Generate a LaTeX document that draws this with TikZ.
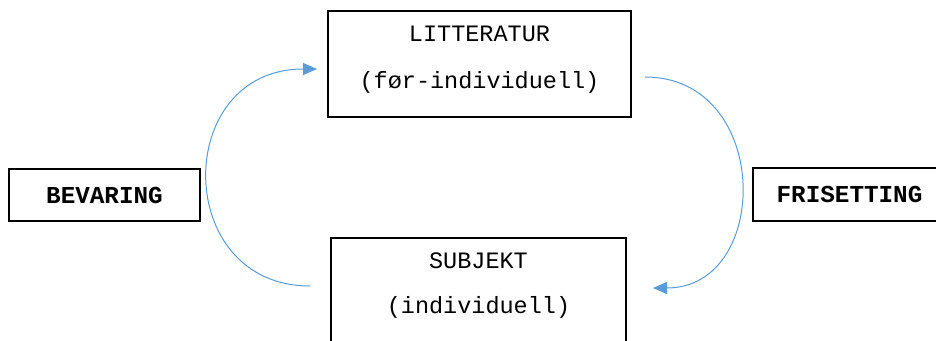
\documentclass[tikz,border=0pt]{standalone}
\usepackage{fontspec}
\setmonofont{Liberation Mono}
\usetikzlibrary{arrows.meta}
\definecolor{arrowblue}{HTML}{5B9BD5}
\tikzset{
  box/.style={draw=black, line width=1.3pt, inner sep=0pt},
  boxtext/.style={font=\fontsize{23.5}{28}\selectfont\ttfamily, anchor=base, inner sep=0pt},
  tagtext/.style={font=\fontsize{24.3}{28}\selectfont\ttfamily\bfseries, inner sep=0pt},
  flow/.style={draw=arrowblue, line width=1pt, -{Triangle[length=14pt,width=12pt]}}
}
\begin{document}
\begin{tikzpicture}[x=1pt, y=-1pt]
  \useasboundingbox (0,0) rectangle (936,340);

  % main boxes
  \node[box, minimum width=303pt, minimum height=106pt] (lit) at (479.5,64) {};
  \node[boxtext] (lit1) at (479.5,41) {LITTERATUR};
  \node[boxtext] (lit2) at (479.5,88) {(før-individuell)};

  \node[box, minimum width=295pt, minimum height=110pt] (sub) at (478.5,293) {};
  \node[boxtext] (sub1) at (478.5,268) {SUBJEKT};
  \node[boxtext] (sub2) at (478.5,313) {(individuell)};

  % side labels
  \node[box, minimum width=191pt, minimum height=52pt] (bev) at (104.5,195) {};
  \node[tagtext] (bevtext) at (104.5,195) {BEVARING};

  \node[box, minimum width=193pt, minimum height=53pt] (fri) at (849.5,194.5) {};
  \node[tagtext] (fritext) at (849.5,194.5) {FRISETTING};

  % arc end points beside the boxes
  \coordinate (subout) at (310,286);
  \coordinate (litin) at (317,69);
  \coordinate (litout) at (645,77);
  \coordinate (subin) at (653,288);

  % the two half-circle arcs
  \draw[flow] (subout) .. controls (172,286) and (172,69) .. (litin);
  \draw[flow] (litout) .. controls (772,77) and (772,288) .. (subin);
\end{tikzpicture}
\end{document}
